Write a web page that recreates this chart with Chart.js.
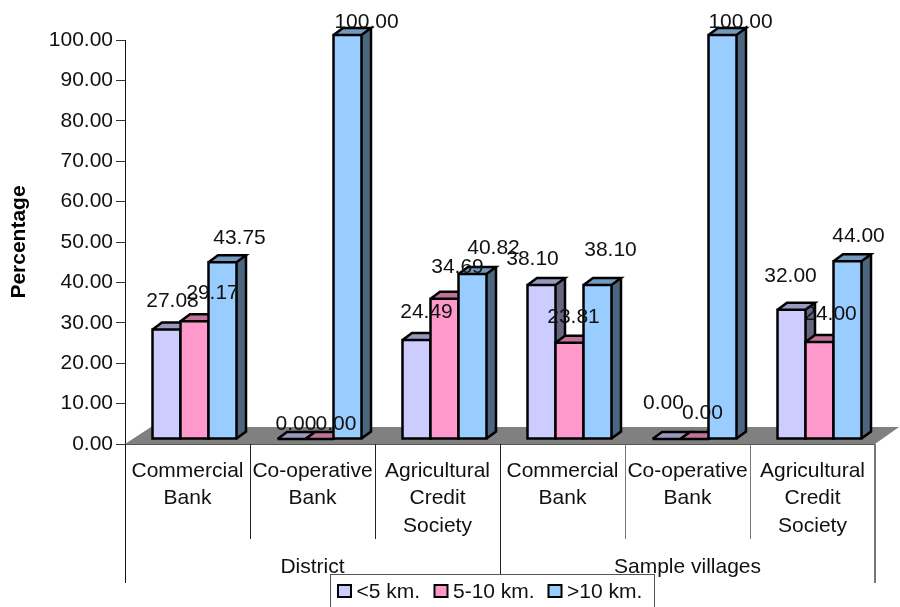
<!DOCTYPE html>
<html>
<head>
<meta charset="utf-8">
<style>html,body{margin:0;padding:0;background:#fff}#wrap{width:900px;height:607px}</style>
<script src="https://cdn.jsdelivr.net/npm/chart.js@4"></script>
</head>
<body>
<div id="wrap"><canvas id="c" width="900" height="607"></canvas></div>
<script>
// Bank distance shares, by type of bank, for the district and the sample villages
const categories = [
  ['Commercial', 'Bank'], ['Co-operative', 'Bank'], ['Agricultural', 'Credit', 'Society'],
  ['Commercial', 'Bank'], ['Co-operative', 'Bank'], ['Agricultural', 'Credit', 'Society']
];
const groups = ['District', 'Sample villages'];
const seriesNames = ['<5 km.', '5-10 km.', '>10 km.'];
const under5 = [27.08, 0, 24.49, 38.10, 0, 32.00];
const from5to10 = [29.17, 0, 34.69, 23.81, 0, 24.00];
const over10 = [43.75, 100, 40.82, 38.10, 100, 44.00];

// Hand placement of each value label relative to its bar: [dx, dy] per series and category
const labelShift = [
  [[6, -28], [4.5, -15], [10, -28], [-9, -26], [-3, -36], [-1, -34]],
  [[18, -28], [16.5, -15], [13, -32], [4, -26], [8, -26], [11, -28]],
  [[17, -24], [19, -13], [21, -26], [13, -35], [18, -13], [11, -25]]
];

const FACE = ['#CCCCFF', '#FF99CC', '#99CCFF'];
const TOP = ['#9999BF', '#BF7399', '#7399BF'];
const SIDE = ['#666680', '#804D66', '#4D6680'];
const FONT = 'Liberation Sans, Arial, sans-serif';
const TEXT = '#111';
const SHIFT_X = 7, SHIFT_Y = -5;       // bars stand back from the axis plane
const DEPTH_X = 9.5, DEPTH_Y = 7;      // extrusion of each column
const FLOOR_X = 25, FLOOR_Y = 17;

function poly(ctx, pts, fill) {
  ctx.beginPath();
  pts.forEach((p, i) => i ? ctx.lineTo(p[0], p[1]) : ctx.moveTo(p[0], p[1]));
  ctx.closePath();
  ctx.fillStyle = fill;
  ctx.fill();
}

const columns3d = {
  id: 'columns3d',
  beforeDatasetsDraw(chart) {
    const { ctx, chartArea: a } = chart;
    // floor of the plot
    poly(ctx, [[a.left, a.bottom], [a.left + FLOOR_X + 1, a.bottom - FLOOR_Y],
               [a.right + FLOOR_X - 1, a.bottom - FLOOR_Y], [a.right, a.bottom]], '#808080');
    // columns go left to right so each one overlaps the side of the previous
    ctx.save();
    ctx.translate(SHIFT_X, SHIFT_Y);
    const metas = chart.data.datasets.map((d, i) => chart.getDatasetMeta(i));
    categories.forEach((cat, i) => {
      metas.forEach((meta, s) => {
        const bar = meta.data[i];
        const p = bar.getProps(['x', 'y', 'base', 'width']);
        const l = p.x - p.width / 2, r = p.x + p.width / 2;
        const t = p.y, b = p.base;
        poly(ctx, [[r, t], [r + DEPTH_X, t - DEPTH_Y], [r + DEPTH_X, b - DEPTH_Y], [r, b]], SIDE[s]);
        poly(ctx, [[l, t], [l + DEPTH_X, t - DEPTH_Y], [r + DEPTH_X, t - DEPTH_Y], [r, t]], TOP[s]);
        bar.draw(ctx);
        ctx.strokeStyle = '#000';
        ctx.lineWidth = 2.5;
        ctx.lineJoin = 'miter';
        ctx.beginPath();
        if (b - t > 0.5) ctx.rect(l, t, r - l, b - t);
        ctx.moveTo(l, t); ctx.lineTo(l + DEPTH_X, t - DEPTH_Y);
        ctx.lineTo(r + DEPTH_X, t - DEPTH_Y); ctx.lineTo(r, t); ctx.lineTo(l, t);
        ctx.moveTo(r + DEPTH_X, t - DEPTH_Y); ctx.lineTo(r + DEPTH_X, b - DEPTH_Y); ctx.lineTo(r, b);
        ctx.stroke();
      });
    });
    ctx.restore();
  },
  beforeDatasetDraw() { return false; },   // columns are painted above
  afterDatasetsDraw(chart) {
    const { ctx, chartArea: a } = chart;
    // front edge of the floor, drawn over the grey
    ctx.fillStyle = '#555';
    ctx.fillRect(a.left, a.bottom, a.right - a.left, 1);

    // value labels
    ctx.font = '21px ' + FONT;
    ctx.fillStyle = TEXT;
    ctx.textAlign = 'center';
    ctx.textBaseline = 'middle';
    chart.data.datasets.forEach((ds, s) => {
      const meta = chart.getDatasetMeta(s);
      ds.data.forEach((v, i) => {
        const p = meta.data[i].getProps(['x', 'y']);
        const [dx, dy] = labelShift[s][i];
        ctx.fillText(v.toFixed(2), p.x + SHIFT_X + dx, p.y + SHIFT_Y + dy);
      });
    });

    // category separators and the outer grouping level
    const x = chart.scales.x;
    const step = (a.right - a.left) / categories.length;
    const shades = ['#111', '#222', '#222', '#222', '#777', '#777', '#777'];
    for (let i = 0; i <= categories.length; i++) {
      const last = i === categories.length;
      const px = Math.round(a.left + i * step) - (last ? 1 : 0);
      ctx.fillStyle = shades[i];
      ctx.fillRect(px, a.bottom, last ? 2 : 1, i % 3 === 0 ? 139 : 95);
    }
    ctx.fillStyle = TEXT;
    groups.forEach((g, k) => {
      ctx.fillText(g, (x.getPixelForTick(k * 3) + x.getPixelForTick(k * 3 + 2)) / 2, 567);
    });

    // legend box, running off the bottom edge
    ctx.fillStyle = '#fff';
    ctx.fillRect(330.5, 574.5, 324, 40);
    ctx.strokeStyle = '#555';
    ctx.lineWidth = 1;
    ctx.strokeRect(330.5, 574.5, 324, 40);
    const swatchX = [338, 434.5, 548.5];
    ctx.textAlign = 'left';
    chart.data.datasets.forEach((ds, s) => {
      ctx.fillStyle = ds.backgroundColor;
      ctx.strokeStyle = '#000';
      ctx.lineWidth = 2;
      ctx.fillRect(swatchX[s], 585, 13, 12);
      ctx.strokeRect(swatchX[s], 585, 13, 12);
      ctx.fillStyle = TEXT;
      ctx.fillText(ds.label, swatchX[s] + 18.5, 592);
    });
  }
};

new Chart(document.getElementById('c'), {
  type: 'bar',
  plugins: [columns3d],
  data: {
    labels: categories,
    datasets: [
      { label: seriesNames[0], data: under5, backgroundColor: FACE[0] },
      { label: seriesNames[1], data: from5to10, backgroundColor: FACE[1] },
      { label: seriesNames[2], data: over10, backgroundColor: FACE[2] }
    ]
  },
  options: {
    responsive: false,
    animation: false,
    events: [],
    layout: { padding: { top: 40, right: 25, bottom: 0, left: 0 } },
    plugins: { legend: { display: false }, tooltip: { enabled: false } },
    datasets: { bar: { barPercentage: 1, categoryPercentage: 0.672, borderWidth: 0 } },
    scales: {
      x: {
        afterFit(s) { s.height = 163; },
        grid: { display: false },
        border: { display: false },
        ticks: {
          color: TEXT, maxRotation: 0, minRotation: 0, autoSkip: false, padding: 5,
          font: { family: FONT, size: 21, lineHeight: 1.31 }
        }
      },
      y: {
        min: 0, max: 100,
        afterFit(s) { s.width = 125; },
        grid: { drawOnChartArea: false, drawTicks: true, tickLength: 9, color: '#333' },
        border: { color: '#111', width: 1 },
        ticks: {
          stepSize: 10, color: TEXT, padding: 3,
          font: { family: FONT, size: 21 },
          callback: v => v.toFixed(2)
        },
        title: {
          display: true, text: 'Percentage', color: '#000', padding: { top: 7, bottom: 0 },
          font: { family: FONT, size: 21, weight: 'bold' }
        }
      }
    }
  }
});
</script>
</body>
</html>
